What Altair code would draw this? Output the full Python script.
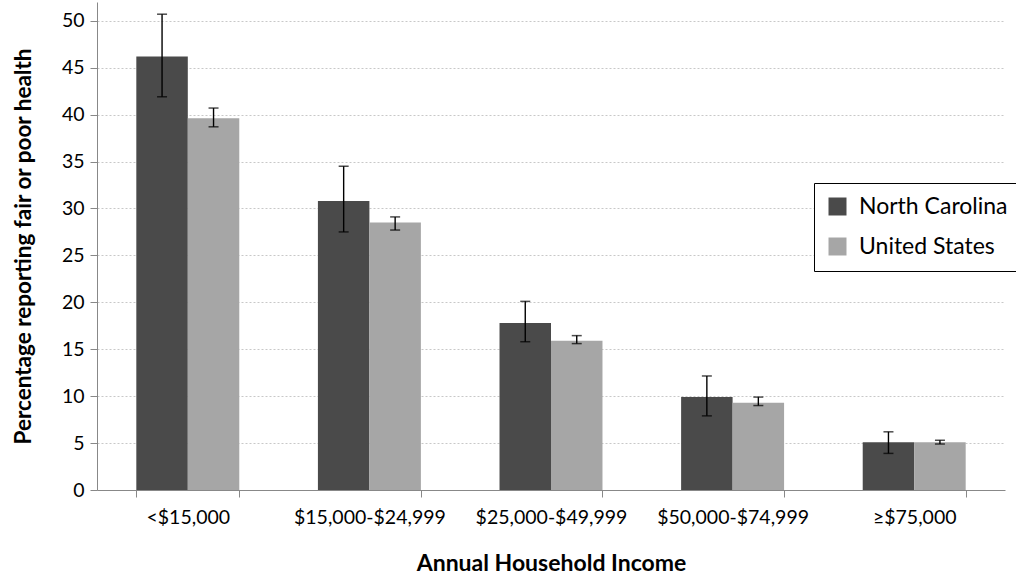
import altair as alt
import pandas as pd

categories = ["<$15,000", "$15,000-$24,999", "$25,000-$49,999", "$50,000-$74,999", "≥$75,000"]
series = ["North Carolina", "United States"]
nc_values = [46.2, 30.8, 17.8, 9.9, 5.1]
nc_low = [41.9, 27.5, 15.8, 7.9, 3.9]
nc_high = [50.7, 34.5, 20.1, 12.15, 6.2]
us_values = [39.6, 28.5, 15.9, 9.3, 5.1]
us_low = [38.7, 27.7, 15.6, 9.0, 4.9]
us_high = [40.7, 29.1, 16.45, 9.9, 5.3]
colors = ["#4a4a4a", "#a6a6a6"]
y_ticks = [0, 5, 10, 15, 20, 25, 30, 35, 40, 45, 50]

rows = []
for i, c in enumerate(categories):
    rows.append({"income": c, "series": series[0], "value": nc_values[i], "lo": nc_low[i], "hi": nc_high[i]})
    rows.append({"income": c, "series": series[1], "value": us_values[i], "lo": us_low[i], "hi": us_high[i]})
df = pd.DataFrame(rows)

FONT = "Lato"

x_enc = alt.X(
    "income:N",
    sort=categories,
    scale=alt.Scale(paddingInner=0.433, paddingOuter=0.2165),
    axis=alt.Axis(
        title="Annual Household Income",
        labelAngle=0,
        labelFontSize=19.5,
        labelColor="black",
        labelPadding=11,
        tickBand="extent",
        tickSize=7,
        tickColor="#888888",
        domainColor="#888888",
        titleFontSize=23,
        titleFontWeight="bold",
        titleColor="black",
        titlePadding=26,
    ),
)
xo_enc = alt.XOffset("series:N", sort=series, scale=alt.Scale(paddingInner=0, paddingOuter=0))

base = alt.Chart(df)

bars = base.mark_bar().encode(
    x=x_enc,
    xOffset=xo_enc,
    y=alt.Y(
        "value:Q",
        scale=alt.Scale(domain=[0, 52], nice=False),
        axis=alt.Axis(
            title="Percentage reporting fair or poor health",
            values=y_ticks,
            labelFontSize=19.5,
            labelColor="black",
            labelPadding=6,
            tickSize=7,
            tickColor="#888888",
            domainColor="#888888",
            grid=True,
            gridColor="#c8c8c8",
            gridDash=[2, 2],
            titleFontSize=22.5,
            titleFontWeight="bold",
            titleColor="black",
            titlePadding=26,
        ),
    ),
    color=alt.Color(
        "series:N",
        sort=series,
        scale=alt.Scale(domain=series, range=colors),
        legend=alt.Legend(
            title=None,
            orient="none",
            legendX=717,
            legendY=181,
            symbolType="square",
            symbolSize=324,
            symbolStrokeWidth=0,
            labelFontSize=23,
            labelColor="black",
            labelOffset=10,
            rowPadding=16,
            padding=12,
            strokeColor="black",
            fillColor="white",
        ),
    ),
)

rules = base.mark_rule(color="black", strokeWidth=1.4).encode(
    x=x_enc, xOffset=xo_enc, y="lo:Q", y2="hi:Q"
)
ticks_lo = base.mark_tick(color="black", orient="horizontal", size=10, thickness=1.5).encode(
    x=x_enc, xOffset=xo_enc, y="lo:Q"
)
ticks_hi = base.mark_tick(color="black", orient="horizontal", size=10, thickness=1.5).encode(
    x=x_enc, xOffset=xo_enc, y="hi:Q"
)

chart = (
    alt.layer(bars, rules, ticks_lo, ticks_hi)
    .properties(
        width=908,
        height=488,
        autosize="none",
        padding={"left": 97, "top": 2, "right": 11, "bottom": 88},
        background="white",
    )
    .configure(font=FONT)
    .configure_view(stroke=None)
)

chart.save("out.html", embed_options={"renderer": "svg", "actions": False})
